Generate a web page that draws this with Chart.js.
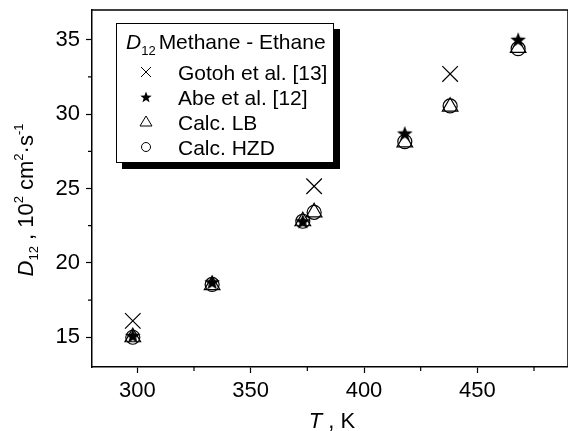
<!DOCTYPE html>
<html>
<head>
<meta charset="utf-8">
<script src="https://cdn.jsdelivr.net/npm/chart.js@4.4.1/dist/chart.umd.min.js"></script>
<style>
  html, body { margin: 0; padding: 0; background: #fff; overflow: hidden; }
  #c { display: block; width: 568px; height: 431px; }
</style>
</head>
<body>
<canvas id="c" width="568" height="431"></canvas>
<script>
// Temperatures (K) and binary diffusion coefficients D12 (10^2 cm^2/s), methane - ethane
const gotohT = [298, 378, 438];
const gotohD = [16.1, 25.15, 32.7];

const abeT = [298, 333, 373, 418, 468];
const abeD = [15.1, 18.7, 22.8, 28.7, 35.0];

const calcT = [298, 333, 373, 378, 418, 438, 468];
const lbD  = [15.0, 18.5, 22.8, 23.4, 28.1, 30.5, 34.45];
const hzdD = [15.0, 18.55, 22.8, 23.4, 28.15, 30.55, 34.4];

const xTicksMajor = [300, 350, 400, 450];
const yTicksMajor = [15, 20, 25, 30, 35];

const FONT = '"Liberation Sans", Arial, Helvetica, sans-serif';

function pts(xs, ys) { return xs.map((x, i) => ({ x: x, y: ys[i] })); }

// filled five-pointed star used as point style
function starPath(ctx, cx, cy, ro, ri) {
  ctx.beginPath();
  for (let i = 0; i < 10; i++) {
    const r = i % 2 === 0 ? ro : ri;
    const a = -Math.PI / 2 + i * Math.PI / 5;
    const px = cx + r * Math.cos(a), py = cy + r * Math.sin(a);
    if (i === 0) ctx.moveTo(px, py); else ctx.lineTo(px, py);
  }
  ctx.closePath();
}
const starImg = document.createElement('canvas');
starImg.width = 18; starImg.height = 18;
(function () {
  const g = starImg.getContext('2d');
  g.fillStyle = '#000';
  starPath(g, 9, 9.6, 8.2, 3.4);
  g.fill();
})();

// rich text helper: draws segments left to right
function richWidth(ctx, segs) {
  let w = 0;
  segs.forEach(s => { ctx.font = s.font; w += ctx.measureText(s.t).width + (s.gap || 0); });
  return w;
}
function richDraw(ctx, segs, x, y) {
  segs.forEach(s => {
    ctx.font = s.font;
    ctx.fillText(s.t, x, y + (s.dy || 0));
    x += ctx.measureText(s.t).width + (s.gap || 0);
  });
}

function noPad(s) { s.paddingTop = 0; s.paddingBottom = 0; s.paddingLeft = 0; s.paddingRight = 0; }

const decor = {
  id: 'decor',
  afterDraw(chart) {
    const ctx = chart.ctx;
    const a = chart.chartArea;
    const xs = chart.scales.x, ys = chart.scales.y;
    ctx.save();
    ctx.strokeStyle = '#000';
    ctx.fillStyle = '#000';

    // frame top and right (right edge runs past the canvas)
    ctx.lineWidth = 1.5;
    ctx.beginPath();
    ctx.moveTo(a.left, a.top); ctx.lineTo(a.right, a.top); ctx.lineTo(a.right, a.bottom);
    ctx.stroke();

    // minor ticks
    ctx.lineWidth = 1.2;
    ctx.beginPath();
    xs.ticks.forEach(t => {
      if (t.value % 50 !== 0) {
        const px = xs.getPixelForValue(t.value);
        ctx.moveTo(px, a.bottom); ctx.lineTo(px, a.bottom + 4);
      }
    });
    ys.ticks.forEach(t => {
      if (t.value % 5 !== 0) {
        const py = ys.getPixelForValue(t.value);
        ctx.moveTo(a.left, py); ctx.lineTo(a.left - 4, py);
      }
    });
    ctx.stroke();

    // x axis title
    ctx.textBaseline = 'alphabetic';
    const xt = [
      { t: 'T', font: 'italic 22px ' + FONT },
      { t: ' , K', font: '22px ' + FONT }
    ];
    const xw = richWidth(ctx, xt);
    richDraw(ctx, xt, (a.left + a.right) / 2 + 2 - xw / 2, 428);

    // y axis title (rotated)
    const yt = [
      { t: 'D', font: 'italic 22px ' + FONT },
      { t: '12', font: '13px ' + FONT, dy: 5 },
      { t: ' , 10', font: '22px ' + FONT },
      { t: '2', font: '13px ' + FONT, dy: -10 },
      { t: ' cm', font: '22px ' + FONT },
      { t: '2', font: '13px ' + FONT, dy: -10 },
      { t: '\u00b7s', font: '22px ' + FONT },
      { t: '-1', font: '13px ' + FONT, dy: -10 }
    ];
    ctx.save();
    ctx.translate(33, 200);
    ctx.rotate(-Math.PI / 2);
    const yw = richWidth(ctx, yt);
    richDraw(ctx, yt, -yw / 2, 0);
    ctx.restore();

    // legend box with drop shadow
    const bx = 116, by = 23, bw = 218, bh = 140;
    ctx.fillStyle = '#000';
    ctx.fillRect(bx + 6, by + 6, bw, bh);
    ctx.fillStyle = '#fff';
    ctx.fillRect(bx, by, bw, bh);
    ctx.lineWidth = 1;
    ctx.strokeRect(bx + 0.5, by + 0.5, bw - 1, bh - 1);

    ctx.fillStyle = '#000';
    richDraw(ctx, [
      { t: 'D', font: 'italic 21px ' + FONT },
      { t: '12', font: '13px ' + FONT, dy: 6, gap: 3 },
      { t: 'Methane - Ethane', font: '21px ' + FONT }
    ], 126, 49);

    const rows = ['Gotoh et al. [13]', 'Abe et al. [12]', 'Calc. LB', 'Calc. HZD'];
    const mx = 146;
    ctx.font = '21px ' + FONT;
    rows.forEach((r, i) => {
      const cy = 72 + i * 25;
      ctx.fillText(r, 178, cy + 7.5);
    });
    ctx.lineWidth = 1;
    // cross
    let cy = 72;
    ctx.beginPath();
    ctx.moveTo(mx - 5, cy - 5); ctx.lineTo(mx + 5, cy + 5);
    ctx.moveTo(mx + 5, cy - 5); ctx.lineTo(mx - 5, cy + 5);
    ctx.stroke();
    // star
    cy = 97;
    starPath(ctx, mx, cy + 0.5, 6, 2.5);
    ctx.fill();
    // triangle
    cy = 122;
    ctx.beginPath();
    ctx.moveTo(mx, cy - 6); ctx.lineTo(mx + 6, cy + 4); ctx.lineTo(mx - 6, cy + 4); ctx.closePath();
    ctx.stroke();
    // circle
    cy = 147;
    ctx.beginPath();
    ctx.arc(mx, cy, 4.5, 0, Math.PI * 2);
    ctx.stroke();

    ctx.restore();
  }
};

new Chart(document.getElementById('c'), {
  type: 'scatter',
  data: {
    datasets: [
      {
        label: 'Gotoh et al. [13]', data: pts(gotohT, gotohD),
        pointStyle: 'crossRot', pointRadius: 11, pointHoverRadius: 11,
        borderColor: '#000', backgroundColor: 'rgba(0,0,0,0)', pointBorderWidth: 1.2, order: 4
      },
      {
        label: 'Calc. LB', data: pts(calcT, lbD),
        pointStyle: 'triangle', pointRadius: 9, pointHoverRadius: 9,
        borderColor: '#000', backgroundColor: 'rgba(0,0,0,0)', pointBorderWidth: 1.2, order: 3
      },
      {
        label: 'Calc. HZD', data: pts(calcT, hzdD),
        pointStyle: 'circle', pointRadius: 7, pointHoverRadius: 7,
        borderColor: '#000', backgroundColor: 'rgba(0,0,0,0)', pointBorderWidth: 1.2, order: 2
      },
      {
        label: 'Abe et al. [12]', data: pts(abeT, abeD),
        pointStyle: starImg, pointRadius: 9,
        borderColor: '#000', backgroundColor: '#000', order: 1
      }
    ]
  },
  options: {
    responsive: false,
    animation: false,
    events: [],
    layout: { autoPadding: false, padding: { top: 10, right: -4, left: 0, bottom: 0 } },
    plugins: { legend: { display: false }, tooltip: { enabled: false } },
    scales: {
      x: {
        type: 'linear', min: 280, max: 490,
        afterFit(s) { s.height = 64; noPad(s); },
        border: { color: '#000', width: 1.5 },
        grid: {
          drawOnChartArea: false, tickLength: 6, tickWidth: 1.2,
          tickColor: c => (c.tick && c.tick.value % 50 === 0) ? '#000' : 'rgba(0,0,0,0)'
        },
        ticks: {
          stepSize: 25, includeBounds: false, maxRotation: 0, autoSkip: false,
          color: '#000', padding: 5, font: { family: FONT, size: 22 },
          callback: v => xTicksMajor.includes(v) ? String(v) : ''
        }
      },
      y: {
        type: 'linear', min: 13, max: 37,
        afterFit(s) { s.width = 92; noPad(s); },
        border: { color: '#000', width: 1.5 },
        grid: {
          drawOnChartArea: false, tickLength: 6, tickWidth: 1.2,
          tickColor: c => (c.tick && c.tick.value % 5 === 0) ? '#000' : 'rgba(0,0,0,0)'
        },
        ticks: {
          stepSize: 2.5, includeBounds: false, autoSkip: false,
          color: '#000', padding: 6, font: { family: FONT, size: 22 },
          callback: v => yTicksMajor.includes(v) ? String(v) : ''
        }
      }
    }
  },
  plugins: [decor]
});
</script>
</body>
</html>
